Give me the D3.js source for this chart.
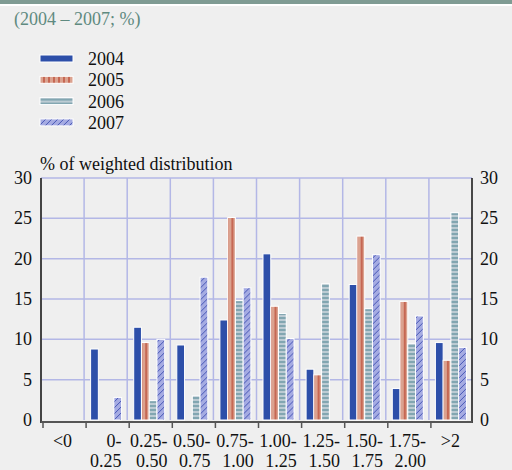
<!DOCTYPE html>
<html>
<head>
<meta charset="utf-8">
<script src="https://cdn.jsdelivr.net/npm/d3@7"></script>
<style>
  body { margin: 0; background: #efefef; }
  svg { display: block; }
</style>
</head>
<body>
<div id="chart"></div>
<script>
// chart data
var categories = ["<0", "0-|0.25", "0.25-|0.50", "0.50-|0.75", "0.75-|1.00", "1.00-|1.25", "1.25-|1.50", "1.50-|1.75", "1.75-|2.00", ">2"];
var years = ["2004", "2005", "2006", "2007"];
var v2004 = [0, 8.8, 11.5, 9.3, 12.4, 20.6, 6.3, 16.8, 3.9, 9.6];
var v2005 = [0, 0, 9.6, 0, 25.1, 14.1, 5.6, 22.8, 14.7, 7.4];
var v2006 = [0, 0, 2.4, 3.0, 14.8, 13.2, 16.9, 13.8, 9.5, 25.7];
var v2007 = [0, 2.8, 10.0, 17.7, 16.4, 10.1, 0, 20.5, 12.9, 9.0];
var yTicks = [0, 5, 10, 15, 20, 25, 30];

function init(){
    var w = 512, h = 470;
    var left = 41, right = 472, top = 178, bottom = 420; // plot area
    var font = "'Liberation Serif'";

    var series = [v2004, v2005, v2006, v2007];
    var fills = ["#2d4fa9", "url(#p2005)", "url(#p2006)", "url(#p2007)"];

    var svg = d3.select("#chart").append("svg")
                .attr("width", w)
                .attr("height", h);

    // patterns for the hatched bars
    var defs = svg.append("defs");
    var p5 = defs.append("pattern").attr("id", "p2005").attr("patternUnits", "userSpaceOnUse")
                 .attr("width", 5).attr("height", 5);
    p5.append("rect").attr("width", 5).attr("height", 5).attr("fill", "#dba28f");
    p5.append("line").attr("x1", 4).attr("x2", 4).attr("y1", 0).attr("y2", 5)
      .attr("stroke", "#b8402a").attr("stroke-width", 1.2);

    var p6 = defs.append("pattern").attr("id", "p2006").attr("patternUnits", "userSpaceOnUse")
                 .attr("width", 4).attr("height", 4);
    p6.append("rect").attr("width", 4).attr("height", 4).attr("fill", "#bccbd3");
    p6.append("line").attr("x1", 0).attr("x2", 4).attr("y1", 2).attr("y2", 2)
      .attr("stroke", "#5b8e9a").attr("stroke-width", 1.2);

    var p7 = defs.append("pattern").attr("id", "p2007").attr("patternUnits", "userSpaceOnUse")
                 .attr("width", 6).attr("height", 6);
    p7.append("rect").attr("width", 6).attr("height", 6).attr("fill", "#a5abe2");
    p7.append("path").attr("d", "M0,6 L6,0 M-1,1 L1,-1 M5,7 L7,5")
      .attr("stroke", "#3b4db0").attr("stroke-width", 0.9);

    // header band and subtitle
    svg.append("rect").attr("x", 0).attr("y", 0).attr("width", w).attr("height", 4).attr("fill", "#7f9b93");
    svg.append("rect").attr("x", 0).attr("y", 4).attr("width", w).attr("height", 2).attr("fill", "#ffffff");
    svg.append("text").attr("x", 14).attr("y", 25).attr("font-size", 18).attr("fill", "#5f8a80")
       .style("font-family", font)
       .text("(2004 \u2013 2007; %)");

    // legend
    var leg = svg.selectAll("g.leg").data(years).enter().append("g")
                 .attr("class", "leg")
                 .attr("transform", function(d, i){ return "translate(40," + (55 + i * 21.3) + ")"; });
    leg.append("rect").attr("width", 33).attr("height", 7)
       .attr("fill", function(d, i){ return fills[i]; })
       .attr("stroke", "#fff").attr("stroke-width", 1);
    leg.append("text").attr("x", 48).attr("y", 10).attr("font-size", 18).attr("fill", "#111")
       .style("font-family", font)
       .text(function(d){ return d; });

    // scales
    var x0 = d3.scaleBand().domain(categories).range([left, right]).padding(0);
    var x1 = d3.scaleBand().domain(years).range([6.5, 37.5]).padding(0);
    var y = d3.scaleLinear().domain([0, 30]).range([bottom, top]);

    // grid
    svg.append("g").selectAll("line").data(yTicks.slice(1)).enter().append("line")
       .attr("x1", left).attr("x2", right)
       .attr("y1", function(d){ return y(d); }).attr("y2", function(d){ return y(d); })
       .attr("stroke", "#b3b7e6").attr("stroke-width", 1.5);
    svg.append("g").selectAll("line").data(categories.slice(1)).enter().append("line")
       .attr("x1", function(d){ return x0(d); }).attr("x2", function(d){ return x0(d); })
       .attr("y1", top).attr("y2", bottom)
       .attr("stroke", "#b3b7e6").attr("stroke-width", 1.5);

    // bars
    var groups = svg.selectAll("g.cat").data(categories).enter().append("g")
                    .attr("class", "cat")
                    .attr("transform", function(d){ return "translate(" + x0(d) + ",0)"; });
    groups.selectAll("rect")
          .data(function(d, ci){ return years.map(function(yr, si){ return {yr: yr, si: si, v: series[si][ci]}; }); })
          .enter().filter(function(d){ return d.v > 0; })
          .append("rect")
          .attr("x", function(d){ return x1(d.yr); })
          .attr("width", x1.bandwidth())
          .attr("y", function(d){ return y(d.v); })
          .attr("height", function(d){ return bottom - y(d.v); })
          .attr("fill", function(d){ return fills[d.si]; })
          .attr("stroke", "#fff").attr("stroke-width", 1);

    // axes
    var yl = svg.append("g").attr("transform", "translate(" + (left - 9) + ",0)");
    yl.selectAll("text").data(yTicks).enter().append("text")
      .attr("x", 0).attr("y", function(d){ return y(d) + 6; })
      .attr("text-anchor", "end").attr("font-size", 18).attr("fill", "#111")
      .style("font-family", font)
      .text(function(d){ return d; });
    var yr = svg.append("g").attr("transform", "translate(" + (right + 8) + ",0)");
    yr.selectAll("text").data(yTicks).enter().append("text")
      .attr("x", 0).attr("y", function(d){ return y(d) + 6; })
      .attr("text-anchor", "start").attr("font-size", 18).attr("fill", "#111")
      .style("font-family", font)
      .text(function(d){ return d; });

    svg.append("line").attr("x1", left).attr("x2", left).attr("y1", top).attr("y2", bottom + 3)
       .attr("stroke", "#444").attr("stroke-width", 2);
    svg.append("line").attr("x1", right).attr("x2", right).attr("y1", top).attr("y2", bottom + 3)
       .attr("stroke", "#111").attr("stroke-width", 1.5);
    svg.append("line").attr("x1", left).attr("x2", right).attr("y1", bottom + 2).attr("y2", bottom + 2)
       .attr("stroke", "#555").attr("stroke-width", 2);
    svg.append("g").selectAll("line").data(categories).enter().append("line")
       .attr("x1", function(d){ return x0(d) + 2; }).attr("x2", function(d){ return x0(d) + 2; })
       .attr("y1", bottom + 2).attr("y2", bottom + 8)
       .attr("stroke", "#555").attr("stroke-width", 1.5);

    // category labels: block centred, lines right aligned
    var lab = svg.selectAll("g.lab").data(categories).enter().append("g").attr("class", "lab");
    lab.each(function(d){
        var g = d3.select(this);
        var lines = d.split("|");
        var t = g.selectAll("text").data(lines).enter().append("text")
                 .attr("y", function(l, i){ return 447 + i * 20; })
                 .attr("font-size", 18).attr("fill", "#111").attr("text-anchor", "end")
                 .style("font-family", font)
                 .text(function(l){ return l; });
        var wmax = d3.max(t.nodes(), function(n){ return n.getComputedTextLength(); });
        var cx = x0(d) + x0.bandwidth() / 2;
        t.attr("x", cx + wmax / 2);
    });

    svg.append("text").attr("x", 40).attr("y", 170).attr("font-size", 18).attr("fill", "#111")
       .style("font-family", font)
       .text("% of weighted distribution");
}
window.onload = init;
</script>
</body>
</html>
